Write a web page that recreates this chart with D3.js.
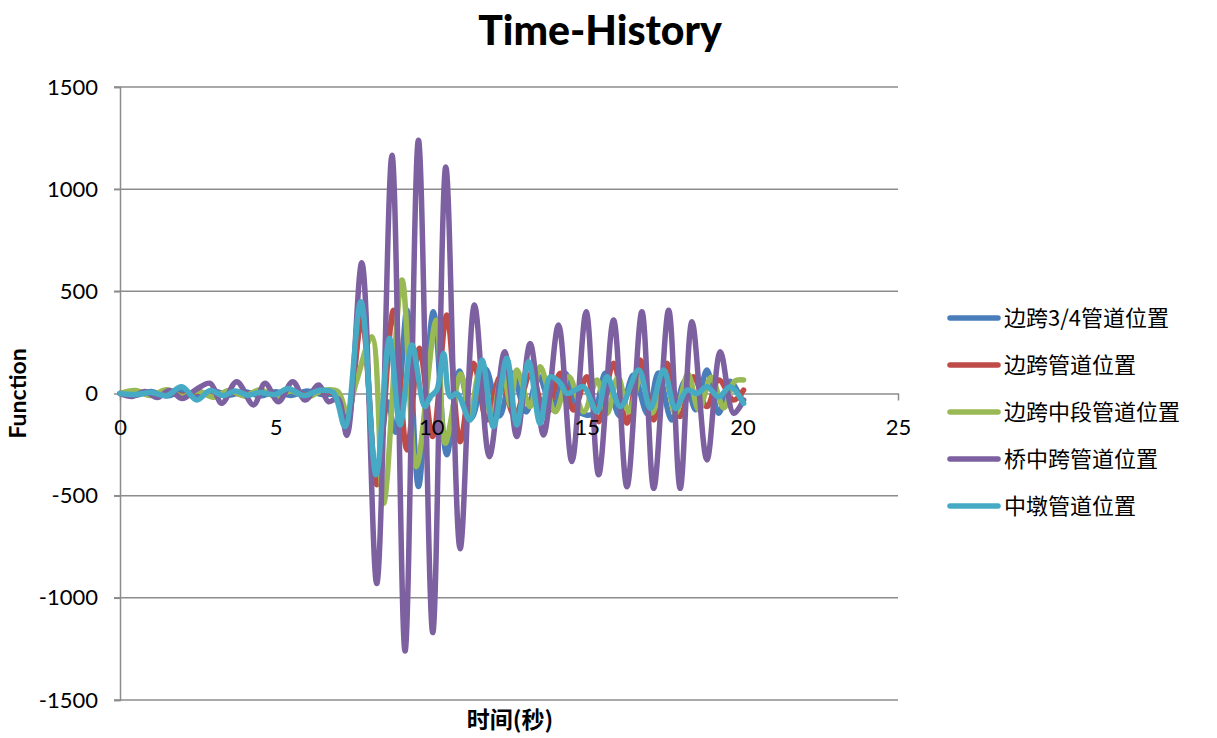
<!DOCTYPE html>
<html>
<head>
<meta charset="utf-8">
<script src="https://cdn.jsdelivr.net/npm/d3@7"></script>
<style>
    body { margin: 0; background: #fff; }
    svg { display: block; }
    .tick-label { font-family: Lato, "Open Sans", sans-serif; font-size: 22px; fill: #000; }
    .cjk { font-family: "Noto Sans CJK SC", sans-serif; }
</style>
</head>
<body>
<svg id="chart"></svg>
<script>
// series names, in legend order
const seriesNames = ["边跨3/4管道位置", "边跨管道位置", "边跨中段管道位置", "桥中跨管道位置", "中墩管道位置"];
const seriesColors = ["#4a7ebb", "#be4b48", "#98b954", "#7d60a0", "#46aac5"];

const xTicks = [0, 5, 10, 15, 20, 25];
const yTicks = [-1500, -1000, -500, 0, 500, 1000, 1500];

// 边跨3/4管道位置
const blueT = [0, 0.5, 1.0, 1.5, 2.0, 2.5, 3.0, 3.5, 4.0, 4.5, 5.0, 5.5, 6.0, 6.5, 7.0, 7.29, 7.77, 8.25, 8.6, 8.85, 9.22, 9.59, 10.07, 10.5, 10.91, 11.3, 11.75, 12.2, 12.6, 13.05, 13.45, 13.9, 14.3, 14.75, 15.2, 15.6, 16.05, 16.5, 16.95, 17.3, 17.73, 18.15, 18.5, 18.86, 19.24, 19.6, 20.0];
const blueV = [0, -8, 10, -12, 8, -10, 12, -8, 10, -12, 8, -10, 12, -5, -10, -150, 380, -430, -40, -190, 408, -455, 400, -300, 110, -120, 120, -110, 100, -90, 85, -80, 100, -90, -100, 100, -110, 90, -100, 100, -130, 60, -80, 115, -97, 60, -40];

// 边跨管道位置
const redT = [0, 0.5, 1.0, 1.5, 2.0, 2.5, 3.0, 3.5, 4.0, 4.5, 5.0, 5.5, 6.0, 6.5, 7.0, 7.29, 7.77, 8.25, 8.79, 9.22, 9.62, 10.05, 10.5, 10.93, 11.36, 11.79, 12.22, 12.68, 13.2, 13.68, 14.15, 14.58, 15.0, 15.38, 15.86, 16.29, 16.72, 17.15, 17.58, 18.0, 18.43, 18.86, 19.24, 19.72, 20.04];
const redV = [0, 10, -8, 12, -10, 8, -12, 10, -8, 12, -10, 15, -8, 10, -10, -146, 360, -447, 408, -276, 221, -211, 384, -236, 148, -130, 82, -110, 95, -105, 99, -81, 82, -138, 148, -146, 164, -130, 148, -113, 82, -64, 66, -32, 17];

// 边跨中段管道位置
const greenT = [0, 0.5, 1.0, 1.5, 2.0, 2.5, 3.0, 3.5, 4.0, 4.5, 5.0, 5.5, 6.0, 6.5, 7.0, 7.29, 7.6, 8.09, 8.47, 9.06, 9.52, 10.16, 10.45, 10.95, 11.25, 11.55, 11.95, 12.3, 12.55, 12.75, 13.18, 13.5, 13.99, 14.42, 14.9, 15.33, 15.65, 16.0, 16.35, 16.75, 17.1, 17.5, 17.85, 18.25, 18.6, 19.0, 19.4, 19.75, 20.04];
const greenV = [0, 15, -10, 18, -15, 12, -18, 15, -12, 18, -15, 12, -18, 15, 10, -90, 60, 278, -537, 555, -358, 359, -244, 95, -100, 100, -113, 115, -60, 115, -64, 131, -89, 82, -89, 66, -97, 80, -90, 85, -95, 90, -100, 95, -80, 80, -70, 60, 66];

// 桥中跨管道位置
const purpleT = [0, 0.4, 0.8, 1.2, 1.6, 2.0, 2.45, 2.9, 3.27, 3.75, 4.29, 4.66, 5.09, 5.55, 5.95, 6.38, 6.7, 7.0, 7.29, 7.77, 8.25, 8.74, 9.16, 9.59, 10.05, 10.47, 10.93, 11.39, 11.87, 12.36, 12.75, 13.18, 13.61, 14.09, 14.52, 14.98, 15.38, 15.86, 16.29, 16.77, 17.15, 17.63, 18.0, 18.38, 18.86, 19.29, 19.72, 20.04];
const purpleV = [0, -15, 10, -20, 15, -25, 20, 50, -48, 58, -56, 50, -40, 58, -32, 42, -40, -25, -205, 640, -930, 1166, -1260, 1240, -1170, 1109, -760, 433, -309, 204, -211, 245, -203, 335, -333, 400, -398, 360, -456, 400, -464, 408, -464, 351, -325, 204, -97, -32];

// 中墩管道位置
const cyanT = [0, 0.5, 1.0, 1.5, 1.98, 2.47, 2.9, 3.3, 3.7, 4.1, 4.5, 5.0, 5.4, 5.9, 6.4, 6.85, 7.23, 7.74, 8.23, 8.66, 9.0, 9.38, 9.79, 9.97, 10.18, 10.4, 10.61, 10.83, 11.25, 11.63, 12.0, 12.43, 12.75, 13.13, 13.5, 13.83, 14.15, 14.36, 14.63, 14.9, 15.33, 15.65, 16.08, 16.67, 17.04, 17.47, 17.85, 18.22, 18.54, 18.86, 19.24, 19.61, 20.04];
const cyanV = [0, -5, 5, -10, 33, -32, 15, -10, 12, -8, 5, -5, 25, -10, 15, 5, -162, 449, -398, 270, -154, 237, -64, -16, 17, 196, -16, 0, -130, 164, -162, 172, -154, 155, -146, 82, 50, 0, 17, 33, -89, 82, -64, 115, -73, 115, -73, 17, 0, 33, -16, 33, -48];

const allT = [blueT, redT, greenT, purpleT, cyanT];
const allV = [blueV, redV, greenV, purpleV, cyanV];

drawChart();

function drawChart(){
    const width = 1217;
    const height = 738;
    const plot = {left: 120, right: 898, top: 87, bottom: 700};
    const gridColor = "#8c8c8c";

    const svg = d3.select("#chart")
                    .attr("width", width)
                    .attr("height", height);

    const x = d3.scaleLinear().domain([0, 25]).range([plot.left, plot.right]);
    const y = d3.scaleLinear().domain([-1500, 1500]).range([plot.bottom, plot.top]);

    // horizontal gridlines (with the little tick stubs left of the axis)
    svg.selectAll("line.grid")
        .data(yTicks.filter(d => d !== 0))
        .enter()
        .append("line")
        .attr("class", "grid")
        .attr("x1", plot.left - 6)
        .attr("x2", plot.right)
        .attr("y1", d => y(d))
        .attr("y2", d => y(d))
        .attr("stroke", gridColor)
        .attr("stroke-width", 1.5);

    // y axis
    const yAxis = d3.axisLeft(y).tickValues(yTicks).tickFormat(d => String(d)).tickSize(6).tickPadding(16);
    const gy = svg.append("g")
                    .attr("transform", `translate(${plot.left},0)`)
                    .call(yAxis);
    gy.select(".domain").attr("stroke", gridColor).attr("stroke-width", 1.5);
    gy.selectAll(".tick line").attr("stroke", gridColor).attr("stroke-width", 1.5);
    gy.selectAll(".tick text")
        .attr("class", "tick-label")
        .attr("font-size", null)
        .attr("font-family", null);

    // x axis line on zero (labels come later, above the series)
    const xAxis = d3.axisBottom(x).tickValues(xTicks).tickFormat(d => String(d)).tickSize(7).tickSizeOuter(0).tickPadding(19);
    const gx = svg.append("g")
                    .attr("transform", `translate(0,${y(0)})`)
                    .call(xAxis);
    gx.select(".domain").attr("stroke", gridColor).attr("stroke-width", 1.5);
    gx.selectAll(".tick line").attr("stroke", gridColor).attr("stroke-width", 1.5);
    gx.selectAll(".tick text")
        .attr("class", "tick-label")
        .attr("font-size", null)
        .attr("font-family", null);

    // series lines
    const line = d3.line()
                    .x(d => x(d[0]))
                    .y(d => y(d[1]))
                    .curve(d3.curveCatmullRom.alpha(0.5));

    const series = svg.append("g");
    seriesNames.forEach((name, i) => {
        const points = allT[i].map((t, j) => [t, allV[i][j]]);
        series.append("path")
            .datum(points)
            .attr("d", line)
            .attr("fill", "none")
            .attr("stroke", seriesColors[i])
            .attr("stroke-width", 5.5)
            .attr("stroke-linejoin", "round")
            .attr("stroke-linecap", "round");
    });

    // tick labels of x axis sit on top of the lines, like in Excel
    gx.selectAll(".tick text").each(function(){
        const t = d3.select(this);
        const tick = d3.select(this.parentNode);
        svg.append("text")
            .attr("class", "tick-label")
            .attr("transform", tick.attr("transform") + ` translate(0,${y(0)})`)
            .attr("y", +t.attr("y"))
            .attr("dy", t.attr("dy"))
            .attr("text-anchor", "middle")
            .text(t.text());
        t.remove();
    });

    // title
    svg.append("text")
        .attr("x", 600)
        .attr("y", 45)
        .attr("text-anchor", "middle")
        .attr("font-family", "Lato, 'Open Sans', sans-serif")
        .attr("font-weight", "900")
        .attr("font-size", 41)
        .text("Time-History");

    // axis titles
    svg.append("text")
        .attr("transform", `translate(26,${y(0)}) rotate(-90)`)
        .attr("text-anchor", "middle")
        .attr("font-family", "Lato, 'Open Sans', sans-serif")
        .attr("font-weight", "bold")
        .attr("font-size", 23)
        .text("Function");

    svg.append("text")
        .attr("x", 510)
        .attr("y", 728)
        .attr("text-anchor", "middle")
        .attr("class", "cjk")
        .attr("font-weight", "bold")
        .attr("font-size", 23)
        .text("时间(秒)");

    // legend
    const legend = svg.append("g").attr("transform", "translate(948,318)");
    const item = legend.selectAll("g")
                    .data(seriesNames)
                    .enter()
                    .append("g")
                    .attr("transform", (d, i) => `translate(0,${i * 47})`);

    item.append("line")
        .attr("x1", 2)
        .attr("x2", 50)
        .attr("stroke", (d, i) => seriesColors[i])
        .attr("stroke-width", 5.5)
        .attr("stroke-linecap", "round");

    item.append("text")
        .attr("x", 56)
        .attr("y", 8)
        .attr("class", "cjk")
        .attr("font-size", 22)
        .text(d => d);
}
</script>
</body>
</html>
